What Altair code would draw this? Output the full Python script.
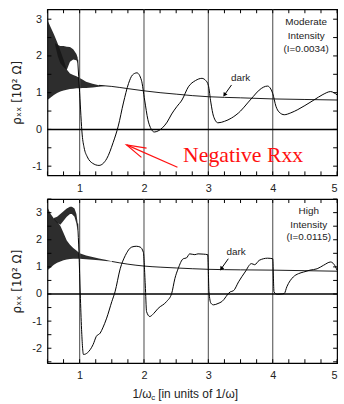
import altair as alt
import pandas as pd

# ---------------- data ----------------
X_TICK_LABELS = [1, 2, 3, 4, 5]
X_MINOR = [0.5 + 0.25 * i for i in range(19)]
VLINES = [1, 2, 3, 4]

# ---- top panel (moderate intensity) ----
top_y_labels = [-1, 0, 1, 2, 3]
top_y_minor = [-1.0, -0.5, 0.0, 0.5, 1.0, 1.5, 2.0, 2.5, 3.0]

top_dark_band_x = [0.5, 0.55, 0.6, 0.65, 0.7, 0.75, 0.8, 0.85, 0.9, 0.95, 1.0, 1.05, 1.1, 1.2, 1.3, 1.4]
top_dark_band_hi = [2.98, 2.78, 2.59, 2.38, 2.15, 1.9, 1.63, 1.52, 1.48, 1.45, 1.40, 1.35, 1.30, 1.24, 1.20, 1.18]
top_dark_band_lo = [0.80, 0.87, 0.94, 0.99, 1.03, 1.06, 1.08, 1.10, 1.11, 1.12, 1.12, 1.13, 1.13, 1.14, 1.16, 1.18]

top_light_band_x = [0.62, 0.66, 0.7, 0.75, 0.8, 0.85, 0.9, 0.95, 0.97]
top_light_band_hi = [2.35, 2.30, 2.27, 2.27, 2.25, 2.24, 2.18, 2.05, 1.95]
top_light_band_lo = [2.30, 2.00, 1.80, 1.70, 1.62, 1.84, 1.90, 1.88, 1.80]

top_light_x = [0.97, 1.0, 1.04, 1.07, 1.12, 1.2, 1.3, 1.42, 1.52, 1.60, 1.68, 1.76, 1.82, 1.89, 1.96,
               2.01, 2.06, 2.10, 2.16, 2.22, 2.29, 2.36, 2.43, 2.51, 2.59, 2.69, 2.80, 2.90, 2.96,
               3.00, 3.04, 3.08, 3.15, 3.25, 3.36, 3.50, 3.61, 3.70, 3.79, 3.92, 3.97, 4.00, 4.05,
               4.10, 4.18, 4.28, 4.39, 4.50, 4.64, 4.78, 4.90, 4.95, 5.00]
top_light_y = [1.90, 1.00, -0.15, -0.50, -0.75, -0.92, -0.98, -0.80, -0.36, 0.09, 0.72, 1.25, 1.48, 1.54, 1.34,
               0.80, 0.27, 0.05, -0.07, -0.04, 0.05, 0.20, 0.42, 0.62, 0.80, 1.16, 1.33, 1.39, 1.33,
               1.20, 0.72, 0.36, 0.18, 0.22, 0.31, 0.50, 0.72, 0.90, 1.07, 1.18, 1.10, 0.98, 0.63,
               0.47, 0.40, 0.45, 0.54, 0.65, 0.80, 0.95, 1.03, 1.00, 0.94]

top_dark_x = [1.3, 1.5, 1.75, 2.0, 2.25, 2.5, 2.75, 3.0, 3.5, 4.0, 4.5, 5.0]
top_dark_y = [1.2, 1.17, 1.11, 1.05, 1.0, 0.96, 0.92, 0.89, 0.86, 0.83, 0.815, 0.80]

top_label_lines = ["Moderate", "Intensity", "(I=0.0034)"]
top_label_x = [4.52, 4.52, 4.52]
top_label_y = [2.91, 2.54, 2.18]
top_dark_text = (3.50, 1.39)
top_dark_arrow = (3.36, 1.21, 3.25, 0.94)

neg_text = "Negative Rxx"
neg_text_pos = (3.54, -0.70)
neg_arrow_shaft = (2.52, -1.03, 1.73, -0.42)
neg_arrow_head_x = [2.04, 1.73, 1.96]
neg_arrow_head_y = [-0.51, -0.42, -0.76]

# ---- bottom panel (high intensity) ----
bot_y_labels = [-2, -1, 0, 1, 2, 3]
bot_y_minor = [-2.5, -2.0, -1.5, -1.0, -0.5, 0.0, 0.5, 1.0, 1.5, 2.0, 2.5, 3.0, 3.5]

bot_dark_band_x = [0.5, 0.55, 0.6, 0.65, 0.7, 0.75, 0.8, 0.85, 0.9, 0.95, 1.0, 1.1, 1.2, 1.3, 1.4, 1.5]
bot_dark_band_hi = [3.2, 2.95, 2.78, 2.65, 2.52, 2.25, 1.97, 1.82, 1.70, 1.60, 1.50, 1.42, 1.36, 1.31, 1.26, 1.21]
bot_dark_band_lo = [0.88, 0.98, 1.08, 1.15, 1.20, 1.24, 1.27, 1.29, 1.30, 1.30, 1.30, 1.28, 1.26, 1.24, 1.22, 1.20]

bot_light_band_x = [0.6, 0.65, 0.7, 0.75, 0.8, 0.85, 0.88, 0.92, 0.95, 0.97]
bot_light_band_hi = [2.80, 2.85, 2.95, 3.05, 3.15, 3.22, 3.22, 3.15, 2.95, 2.60]
bot_light_band_lo = [2.75, 2.62, 2.55, 2.70, 2.85, 2.95, 2.95, 2.85, 2.60, 2.30]

bot_light_x = [0.97, 0.99, 1.01, 1.03, 1.06, 1.12, 1.21, 1.26, 1.32, 1.36, 1.42, 1.50, 1.55, 1.63, 1.71,
               1.81, 1.88, 1.94, 1.99, 2.02, 2.04, 2.09, 2.15, 2.22, 2.35, 2.43, 2.48, 2.53, 2.61,
               2.66, 2.71, 2.79, 2.84, 2.92, 2.99, 3.01, 3.04, 3.08, 3.15, 3.21, 3.34, 3.39, 3.47,
               3.57, 3.67, 3.72, 3.79, 3.92, 4.00, 4.02, 4.07, 4.13, 4.18, 4.22, 4.32, 4.40, 4.48,
               4.58, 4.69, 4.79, 4.90, 4.95, 5.00]
bot_light_y = [2.60, 1.50, 0.00, -1.30, -2.23, -2.17, -1.86, -1.56, -1.44, -1.25, -0.89, -0.28, 0.08, 0.93, 1.42,
               1.73, 1.76, 1.73, 1.54, 0.33, -0.65, -0.83, -0.72, -0.53, -0.28, 0.02, 0.57, 0.93, 1.30,
               1.33, 1.48, 1.45, 1.48, 1.47, 1.45, 0.08, -0.34, -0.40, -0.35, -0.28, 0.08, 0.12, 0.45,
               0.81, 1.12, 1.08, 1.24, 1.32, 1.30, 0.08, -0.01, 0.00, 0.02, 0.27, 0.63, 0.75, 0.81,
               0.88, 0.93, 1.06, 1.18, 1.10, 0.88]

bot_dark_x = [1.5, 1.75, 2.0, 2.25, 2.5, 3.0, 3.5, 4.0, 4.5, 5.0]
bot_dark_y = [1.2, 1.1, 1.03, 0.99, 0.96, 0.91, 0.89, 0.88, 0.86, 0.84]

bot_label_lines = ["High", "Intensity", "(I=0.0115)"]
bot_label_x = [4.56, 4.56, 4.56]
bot_label_y = [3.07, 2.55, 2.09]
bot_dark_text = (3.43, 1.54)
bot_dark_arrow = (3.31, 1.30, 3.20, 0.93)

Y_TITLE = "ρₓₓ  [10² Ω]"
X_TITLE_PARTS = ["1/ω", "c", "[in units of 1/ω]"]

W = 293
FONT = "Liberation Sans"


def panel(ydom, height, ylabels, yminor, dband, lband, light, dark,
          lab_lines, lab_x, lab_y, dark_text, dark_arrow, extra=None, xtitle=False):
    xs = alt.Scale(domain=[0.5, 5.0], nice=False, zero=False)
    ys = alt.Scale(domain=ydom, nice=False, zero=False)
    xax = alt.Axis(values=X_TICK_LABELS, ticks=False, grid=False, domain=False, title=None,
                   labelFontSize=11, labelFont=FONT, labelColor="#222", labelPadding=7,
                   labelExpr="'' + datum.value")
    yax = alt.Axis(values=ylabels, ticks=False, grid=False, domain=False, title=Y_TITLE,
                   labelFontSize=11, labelFont=FONT, labelColor="#222", labelPadding=6,
                   labelExpr="'' + datum.value", titleFont="DejaVu Sans", titleFontSize=12,
                   titleFontWeight="normal", titleColor="#222", titlePadding=8)
    X = lambda f: alt.X(f, type="quantitative", scale=xs, axis=xax)
    Y = lambda f: alt.Y(f, type="quantitative", scale=ys, axis=yax)

    layers = []
    for bx, bh, bl in (dband, lband):
        df = pd.DataFrame({"x": bx, "hi": bh, "lo": bl})
        layers.append(alt.Chart(df).mark_area(color="#161616", opacity=0.9, clip=True)
                      .encode(x=X("x"), y=Y("hi"), y2="lo"))
    layers.append(alt.Chart(pd.DataFrame({"x": VLINES})).mark_rule(color="#666", strokeWidth=1.2)
                  .encode(x=X("x")))
    layers.append(alt.Chart(pd.DataFrame({"y": [0]})).mark_rule(color="black", strokeWidth=1.6)
                  .encode(y=Y("y")))
    for lx, ly, sw in ((dark[0], dark[1], 0.9), (light[0], light[1], 1.0)):
        df = pd.DataFrame({"x": lx, "y": ly, "o": list(range(len(lx)))})
        layers.append(alt.Chart(df).mark_line(color="black", strokeWidth=sw, interpolate="monotone", clip=True)
                      .encode(x=X("x"), y=Y("y"), order="o:Q"))
    # inward ticks
    tx = pd.DataFrame({"x": X_MINOR})
    ty = pd.DataFrame({"y": yminor})
    layers.append(alt.Chart(tx).mark_rule(color="black").encode(x=X("x"), y=alt.value(height), y2=alt.value(height - 4)))
    layers.append(alt.Chart(tx).mark_rule(color="black").encode(x=X("x"), y=alt.value(0), y2=alt.value(4)))
    layers.append(alt.Chart(ty).mark_rule(color="black").encode(y=Y("y"), x=alt.value(0), x2=alt.value(4)))
    layers.append(alt.Chart(ty).mark_rule(color="black").encode(y=Y("y"), x=alt.value(W), x2=alt.value(W - 4)))
    # intensity label
    layers.append(alt.Chart(pd.DataFrame({"x": lab_x, "y": lab_y, "t": lab_lines}))
                  .mark_text(font=FONT, fontSize=10, color="#222", baseline="middle")
                  .encode(x=X("x"), y=Y("y"), text="t"))
    # dark label + arrow
    layers.append(alt.Chart(pd.DataFrame({"x": [dark_text[0]], "y": [dark_text[1]], "t": ["dark"]}))
                  .mark_text(font=FONT, fontSize=10, color="#222", baseline="middle")
                  .encode(x=X("x"), y=Y("y"), text="t"))
    ad = pd.DataFrame({"x": [dark_arrow[0]], "y": [dark_arrow[1]], "x2": [dark_arrow[2]], "y2": [dark_arrow[3]]})
    layers.append(alt.Chart(ad).mark_rule(color="black", strokeWidth=1)
                  .encode(x=X("x"), y=Y("y"), x2="x2", y2="y2"))
    layers.append(alt.Chart(ad).mark_point(shape="triangle-up", filled=True, color="black", size=22,
                                           angle=215, opacity=1)
                  .encode(x=X("x2"), y=Y("y2")))
    if extra is not None:
        layers.extend(extra(X, Y))
    if xtitle:
        layers.append(alt.Chart(pd.DataFrame({"t": [X_TITLE_PARTS[0]]}))
                      .mark_text(font=FONT, fontSize=12, color="#222", align="left", baseline="middle")
                      .encode(x=alt.value(86), y=alt.value(height + 31), text="t"))
        layers.append(alt.Chart(pd.DataFrame({"t": [X_TITLE_PARTS[1]]}))
                      .mark_text(font=FONT, fontSize=8, color="#222", align="left", baseline="middle")
                      .encode(x=alt.value(105), y=alt.value(height + 35), text="t"))
        layers.append(alt.Chart(pd.DataFrame({"t": [X_TITLE_PARTS[2]]}))
                      .mark_text(font=FONT, fontSize=12, color="#222", align="left", baseline="middle")
                      .encode(x=alt.value(112), y=alt.value(height + 31), text="t"))
    return alt.layer(*layers).properties(width=W, height=height)


def neg_extra(X, Y):
    out = []
    out.append(alt.Chart(pd.DataFrame({"x": [neg_text_pos[0]], "y": [neg_text_pos[1]], "t": [neg_text]}))
               .mark_text(font="Liberation Serif", fontSize=22, color="#ff1010", baseline="middle")
               .encode(x=X("x"), y=Y("y"), text="t"))
    sh = pd.DataFrame({"x": [neg_arrow_shaft[0]], "y": [neg_arrow_shaft[1]],
                       "x2": [neg_arrow_shaft[2]], "y2": [neg_arrow_shaft[3]]})
    out.append(alt.Chart(sh).mark_rule(color="#ff1010", strokeWidth=1.2)
               .encode(x=X("x"), y=Y("y"), x2="x2", y2="y2"))
    hd = pd.DataFrame({"x": neg_arrow_head_x, "y": neg_arrow_head_y, "o": [0, 1, 2]})
    out.append(alt.Chart(hd).mark_line(color="#ff1010", strokeWidth=1.2)
               .encode(x=X("x"), y=Y("y"), order="o:Q"))
    return out


top = panel([-1.25, 3.27], 168, top_y_labels, top_y_minor,
            (top_dark_band_x, top_dark_band_hi, top_dark_band_lo),
            (top_light_band_x, top_light_band_hi, top_light_band_lo),
            (top_light_x, top_light_y), (top_dark_x, top_dark_y),
            top_label_lines, top_label_x, top_label_y, top_dark_text, top_dark_arrow,
            extra=neg_extra)
bottom = panel([-2.55, 3.5], 166, bot_y_labels, bot_y_minor,
               (bot_dark_band_x, bot_dark_band_hi, bot_dark_band_lo),
               (bot_light_band_x, bot_light_band_hi, bot_light_band_lo),
               (bot_light_x, bot_light_y), (bot_dark_x, bot_dark_y),
               bot_label_lines, bot_label_x, bot_label_y, bot_dark_text, bot_dark_arrow,
               xtitle=True)

chart = (alt.vconcat(top, bottom, spacing=3)
         .properties(padding={"left": 10, "top": 5, "right": 5, "bottom": 5}, background="white")
         .configure_view(stroke="black", strokeWidth=1.2))

chart.save("out.html", embed_options={"renderer": "svg", "actions": False})
